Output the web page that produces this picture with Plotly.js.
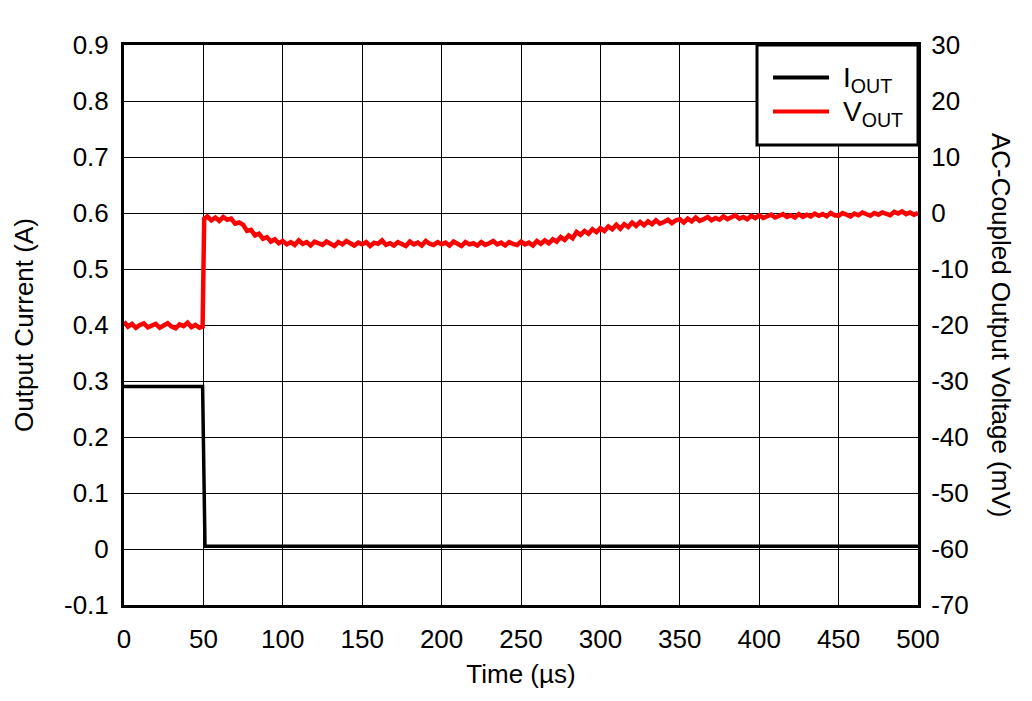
<!DOCTYPE html>
<html>
<head>
<meta charset="utf-8">
<script src="https://cdn.plot.ly/plotly-3.0.1.min.js"></script>
<style>html,body{margin:0;padding:0;background:#fff;}#chart{width:1032px;height:701px;}</style>
</head>
<body>
<div id="chart"></div>
<script>
// Time (µs) for the output voltage trace
const vTime = [
  0,2.5,5,7.5,10,12.5,15,17.5,20,22.5,
  25,27.5,30,32.5,35,37.5,40,42.5,45,47.5,
  49.5,50.5,
  52.5,55,57.5,60,62.5,65,67.5,70,72.5,
  75,77.5,80,82.5,85,87.5,90,92.5,95,97.5,
  100,102.5,105,107.5,110,112.5,115,117.5,120,122.5,
  125,127.5,130,132.5,135,137.5,140,142.5,145,147.5,
  150,152.5,155,157.5,160,162.5,165,167.5,170,172.5,
  175,177.5,180,182.5,185,187.5,190,192.5,195,197.5,
  200,202.5,205,207.5,210,212.5,215,217.5,220,222.5,
  225,227.5,230,232.5,235,237.5,240,242.5,245,247.5,
  250,252.5,255,257.5,260,262.5,265,267.5,270,272.5,
  275,277.5,280,282.5,285,287.5,290,292.5,295,297.5,
  300,302.5,305,307.5,310,312.5,315,317.5,320,322.5,
  325,327.5,330,332.5,335,337.5,340,342.5,345,347.5,
  350,352.5,355,357.5,360,362.5,365,367.5,370,372.5,
  375,377.5,380,382.5,385,387.5,390,392.5,395,397.5,
  400,402.5,405,407.5,410,412.5,415,417.5,420,422.5,
  425,427.5,430,432.5,435,437.5,440,442.5,445,447.5,
  450,452.5,455,457.5,460,462.5,465,467.5,470,472.5,
  475,477.5,480,482.5,485,487.5,490,492.5,495,497.5,
  500];
// AC-coupled output voltage (mV)
const vOut = [
  -19.4,-20.3,-19.8,-20.5,-20.0,-19.7,-20.4,-20.1,-19.8,-20.5,
  -20.0,-19.7,-20.3,-20.6,-19.9,-20.2,-19.6,-20.4,-20.0,-20.5,
  -20.3,-1.0,
  -0.6,-1.3,-0.8,-1.4,-0.7,-1.2,-1.0,-1.9,-1.7,
  -2.1,-3.2,-3.0,-4.0,-3.7,-4.6,-4.3,-5.1,-4.7,-5.4,
  -5.0,-5.6,-5.2,-5.7,-4.9,-5.5,-5.2,-5.8,-5.1,-5.4,
  -5.7,-5.1,-5.5,-5.9,-5.2,-5.6,-5.0,-5.5,-5.8,-5.3,
  -5.6,-5.2,-5.9,-5.3,-5.5,-4.9,-5.7,-5.4,-5.8,-5.2,
  -5.5,-5.9,-5.1,-5.6,-5.3,-5.8,-5.0,-5.5,-5.7,-5.2,
  -5.6,-5.3,-5.8,-5.1,-5.5,-5.9,-5.2,-5.6,-5.4,-5.8,
  -5.2,-5.7,-5.4,-5.0,-5.6,-5.3,-5.8,-5.2,-5.5,-5.7,
  -5.1,-5.6,-5.3,-5.8,-5.0,-5.5,-4.9,-5.4,-4.7,-5.1,
  -4.3,-4.8,-4.0,-4.5,-3.4,-3.9,-3.2,-3.7,-2.9,-3.4,
  -2.7,-3.2,-2.4,-2.9,-2.1,-2.8,-2.0,-2.5,-1.7,-2.3,
  -1.6,-2.2,-1.5,-2.0,-1.3,-1.9,-1.6,-1.2,-1.8,-1.3,
  -1.1,-1.7,-1.0,-1.5,-0.8,-1.4,-1.1,-0.7,-1.3,-0.9,
  -1.2,-0.6,-1.1,-0.8,-0.4,-1.0,-0.7,-1.1,-0.5,-0.9,
  -0.4,-0.9,-0.6,-0.3,-0.8,-0.5,-0.2,-0.7,-0.4,-0.8,
  -0.2,-0.7,-0.3,-0.6,-0.1,-0.5,-0.2,-0.6,0.0,-0.4,
  -0.5,0.0,-0.3,-0.6,-0.1,-0.4,0.1,-0.3,-0.5,0.0,
  -0.3,0.1,-0.2,-0.4,0.2,-0.1,0.3,-0.2,0.1,-0.3,
  0.0];
// Time (µs) and output current (A)
const iTime = [0,10,20,30,40,49.5,51,100,200,300,400,500];
const iOut = [0.29,0.29,0.29,0.29,0.29,0.29,0.005,0.005,0.005,0.005,0.005,0.005];

// Tick values and labels
const xTicks = [0,50,100,150,200,250,300,350,400,450,500];
const yLeftTicks = [-0.1,0,0.1,0.2,0.3,0.4,0.5,0.6,0.7,0.8,0.9];
const yLeftText = ['-0.1','0','0.1','0.2','0.3','0.4','0.5','0.6','0.7','0.8','0.9'];
const yRightTicks = [-70,-60,-50,-40,-30,-20,-10,0,10,20,30];
const yRightText = ['-70','-60','-50','-40','-30','-20','-10','0','10','20','30'];
// Series names
const seriesNames = ['I<sub>OUT</sub>', 'V<sub>OUT</sub>'];
const seriesColors = ['#000000', '#ff0000'];

const font = {family: 'Liberation Sans, Arial, sans-serif', size: 26, color: '#000'};
const legendFont = {family: 'Liberation Sans, Arial, sans-serif', size: 28, color: '#000'};

const traces = [
  {x: iTime, y: iOut, type: 'scatter', mode: 'lines', name: seriesNames[0],
   line: {color: seriesColors[0], width: 3.5}, yaxis: 'y', showlegend: false},
  {x: vTime, y: vOut, type: 'scatter', mode: 'lines', name: seriesNames[1],
   line: {color: seriesColors[1], width: 4.5}, yaxis: 'y2', showlegend: false}
];

// plot box in pixels: left 124, right 918, top 45, bottom 605
const PX = v => (v - 124) / 794;
const PY = v => (605 - v) / 560;

const legendShapes = [
  {type: 'rect', xref: 'paper', yref: 'paper', x0: PX(757), x1: 1, y0: PY(145), y1: 1,
   line: {color: '#000', width: 3}, fillcolor: '#fff', layer: 'above'},
  {type: 'line', xref: 'paper', yref: 'paper', x0: PX(773), x1: PX(829), y0: PY(77.5), y1: PY(77.5),
   line: {color: seriesColors[0], width: 4}, layer: 'above'},
  {type: 'line', xref: 'paper', yref: 'paper', x0: PX(773), x1: PX(829), y0: PY(111.5), y1: PY(111.5),
   line: {color: seriesColors[1], width: 4}, layer: 'above'}
];

const layout = {
  width: 1032, height: 701,
  margin: {l: 124, r: 114, t: 45, b: 96},
  paper_bgcolor: '#fff', plot_bgcolor: '#fff',
  font: font,
  showlegend: false,
  xaxis: {range: [0, 500], tickvals: xTicks, ticktext: xTicks.map(String),
          showgrid: true, gridcolor: '#000', gridwidth: 1, zeroline: false,
          showline: true, linecolor: '#000', linewidth: 3, mirror: true,
          ticks: 'outside', ticklen: 9, tickcolor: 'rgba(0,0,0,0)',
          tickfont: font,
          title: {text: 'Time (µs)', font: font, standoff: 12}},
  yaxis: {range: [-0.1, 0.9], tickvals: yLeftTicks, ticktext: yLeftText,
          showgrid: true, gridcolor: '#000', gridwidth: 1, zeroline: false,
          showline: true, linecolor: '#000', linewidth: 3, mirror: true,
          ticks: 'outside', ticklen: 7, tickcolor: 'rgba(0,0,0,0)',
          tickfont: font,
          title: {text: 'Output Current (A)', font: font, standoff: 23}},
  yaxis2: {range: [-70, 30], tickvals: yRightTicks, ticktext: yRightText,
           overlaying: 'y', side: 'right', showgrid: false, zeroline: false,
           showline: false, ticks: 'outside', ticklen: 7, tickcolor: 'rgba(0,0,0,0)',
           tickfont: font},
  shapes: legendShapes,
  annotations: [
    {text: 'AC-Coupled Output Voltage (mV)', xref: 'paper', yref: 'paper',
     x: PX(1001), y: 0.5, textangle: 90, showarrow: false,
     xanchor: 'center', yanchor: 'middle', font: font},
    {text: seriesNames[0], xref: 'paper', yref: 'paper', x: PX(841), y: PY(79),
     xanchor: 'left', yanchor: 'middle', showarrow: false, font: legendFont},
    {text: seriesNames[1], xref: 'paper', yref: 'paper', x: PX(841), y: PY(113),
     xanchor: 'left', yanchor: 'middle', showarrow: false, font: legendFont}
  ]
};

Plotly.newPlot('chart', traces, layout, {displayModeBar: false, staticPlot: true});
</script>
</body>
</html>
